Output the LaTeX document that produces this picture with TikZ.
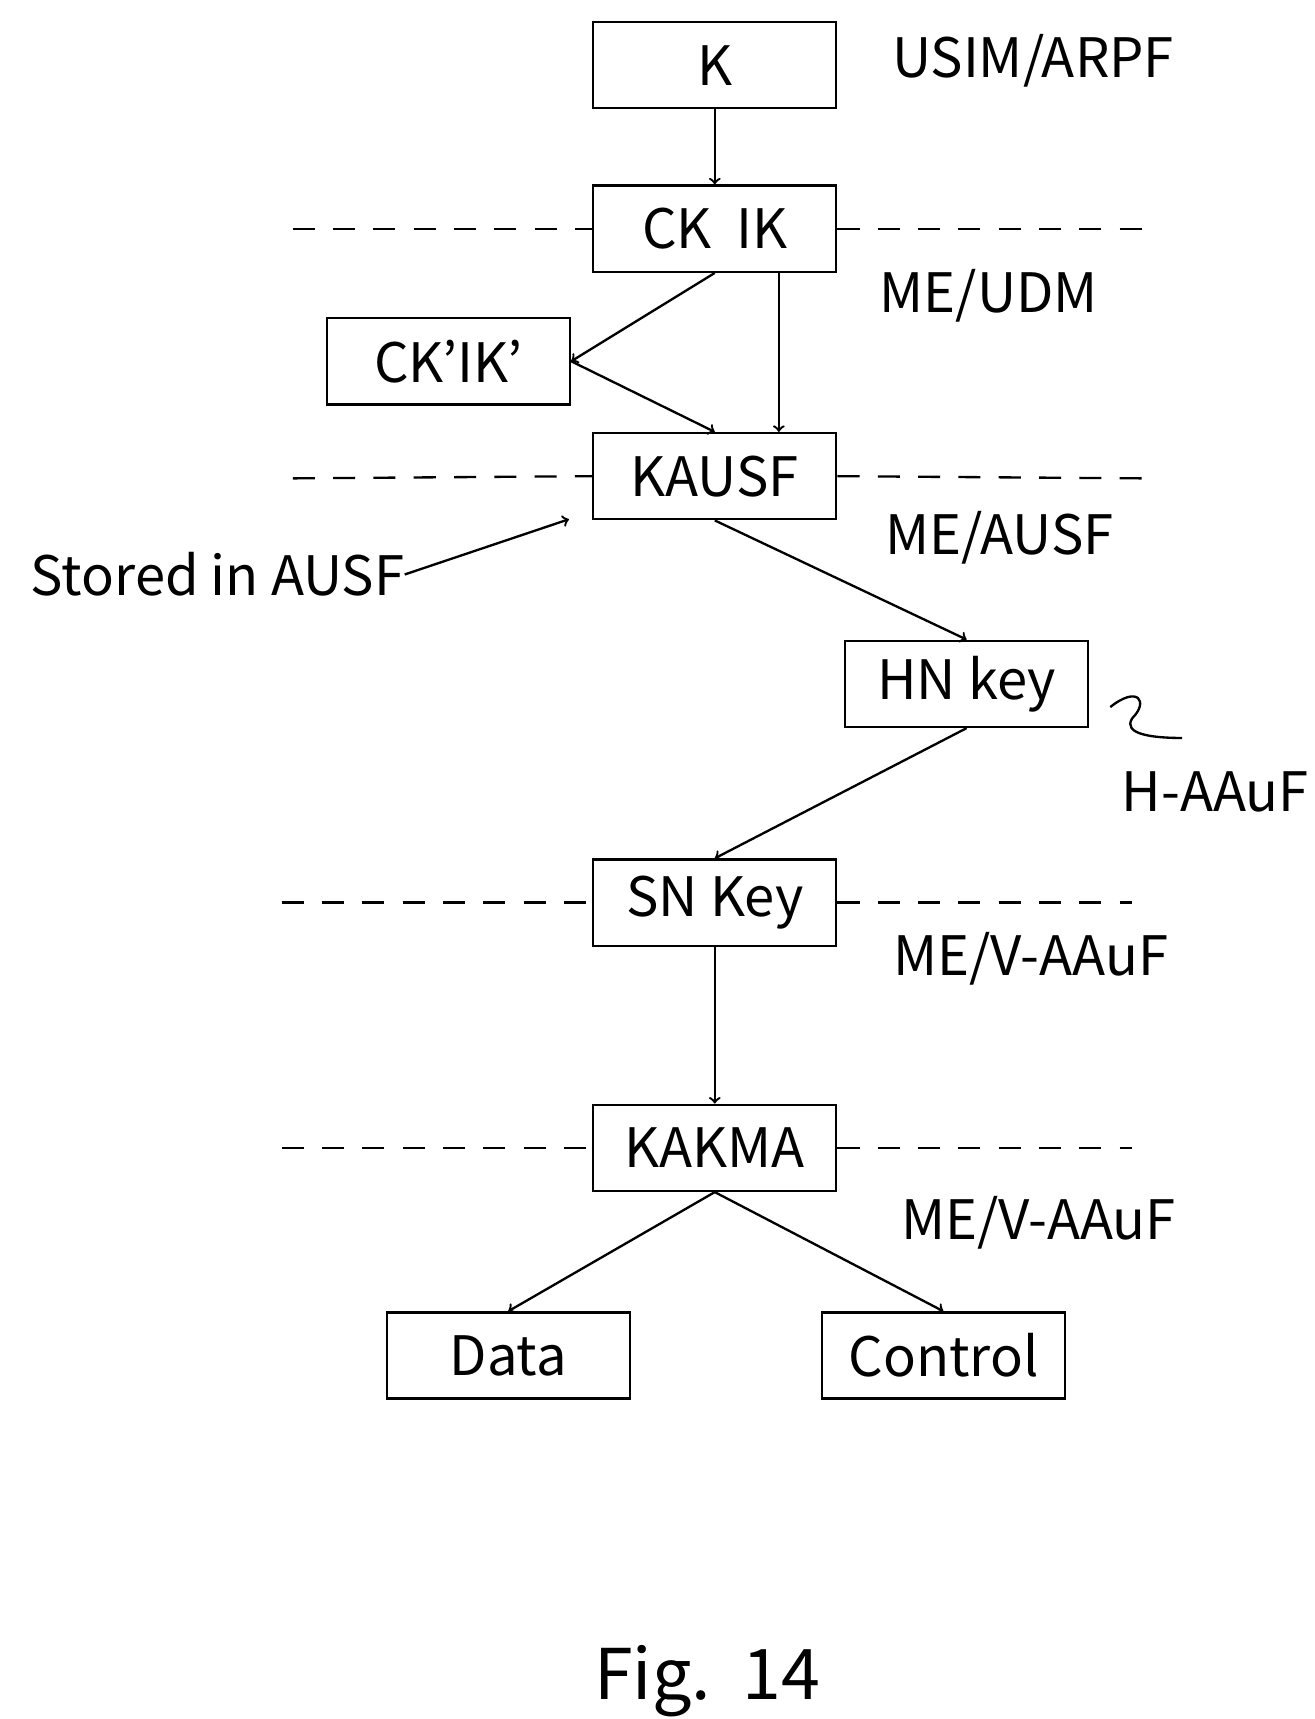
\documentclass[tikz,border=0pt]{standalone}
\usepackage{fontspec}
\setmainfont{Noto Sans CJK JP}
\usetikzlibrary{positioning}
\tikzstyle{box} = [rectangle, draw, line width=1.2pt, minimum width=4.4cm, minimum height=1.56cm, inner sep=0pt]
\tikzstyle{line} = [draw, line width=1.2pt, ->]
\tikzstyle{sep} = [draw, line width=1.2pt, dash pattern=on 0.4cm off 0.33cm]
\tikzstyle{lab} = [inner sep=0pt]
\begin{document}
\begin{tikzpicture}[x=0.02cm, y=-0.02cm, font=\fontsize{28}{34}\selectfont]
\useasboundingbox (0,0) rectangle (1190,1556);
%keys
\node [box] (K) at (647,59) {K};
\node [box] (CKIK) at (647,207) {CK\ \ IK};
\node [box] (CKp) at (406,327) {CK’IK’};
\node [box] (KAUSF) at (647,431) {KAUSF};
\node [box] (HN) at (875,619) {HN key};
\node [box] (SN) at (647,817) {SN Key};
\node [box] (KAKMA) at (647,1039) {KAKMA};
\node [box] (Data) at (460,1227) {Data};
\node [box] (Ctrl) at (854,1227) {Control};
%separators
\draw [sep] (265,207) -- (CKIK.west);
\draw [sep] (CKIK.east) -- (1035,207);
\draw [sep] (265,433) -- (KAUSF.west);
\draw [sep] (KAUSF.east) -- (1035,433);
\draw [sep] (255,817) -- (SN.west);
\draw [sep] (SN.east) -- (1025,817);
\draw [sep] (255,1039) -- (KAKMA.west);
\draw [sep] (KAKMA.east) -- (1025,1039);
%labels
\node [lab] (l1) at (935,55) {USIM/ARPF};
\node [lab] (l2) at (895,268) {ME/UDM};
\node [lab] (l3) at (905,487) {ME/AUSF};
\node [lab] (l4) at (1100,717) {H-AAuF};
\node [lab] (l5) at (933,868) {ME/V-AAuF};
\node [lab] (l6) at (940,1107) {ME/V-AAuF};
\node [lab] (st) at (197,520) {Stored in AUSF};
\node [lab, font=\fontsize{36}{42}\selectfont] (fig) at (640,1522) {Fig.\ \ 14};
\coordinate (stp) at (515,470);
%arrows
\path [line] (K) -- (CKIK);
\path [line] (CKIK.south) -- (CKp.east);
\path [line] ([xshift=1.16cm]CKIK.south) -- ([xshift=1.16cm]KAUSF.north);
\path [line] (CKp.east) -- (KAUSF.north);
\path [line] (KAUSF.south) -- (HN.north);
\path [line] (HN.south) -- (SN.north);
\path [line] (SN) -- (KAKMA);
\path [line] (KAKMA.south) -- (Data.north);
\path [line] (KAKMA.south) -- (Ctrl.north);
\path [line] (st.east) -- (stp);
\draw [line width=1.2pt] (1005,640) .. controls (1030,620) and (1040,635) .. (1025,650) .. controls (1015,665) and (1045,668) .. (1070,668);
\end{tikzpicture}
\end{document}
